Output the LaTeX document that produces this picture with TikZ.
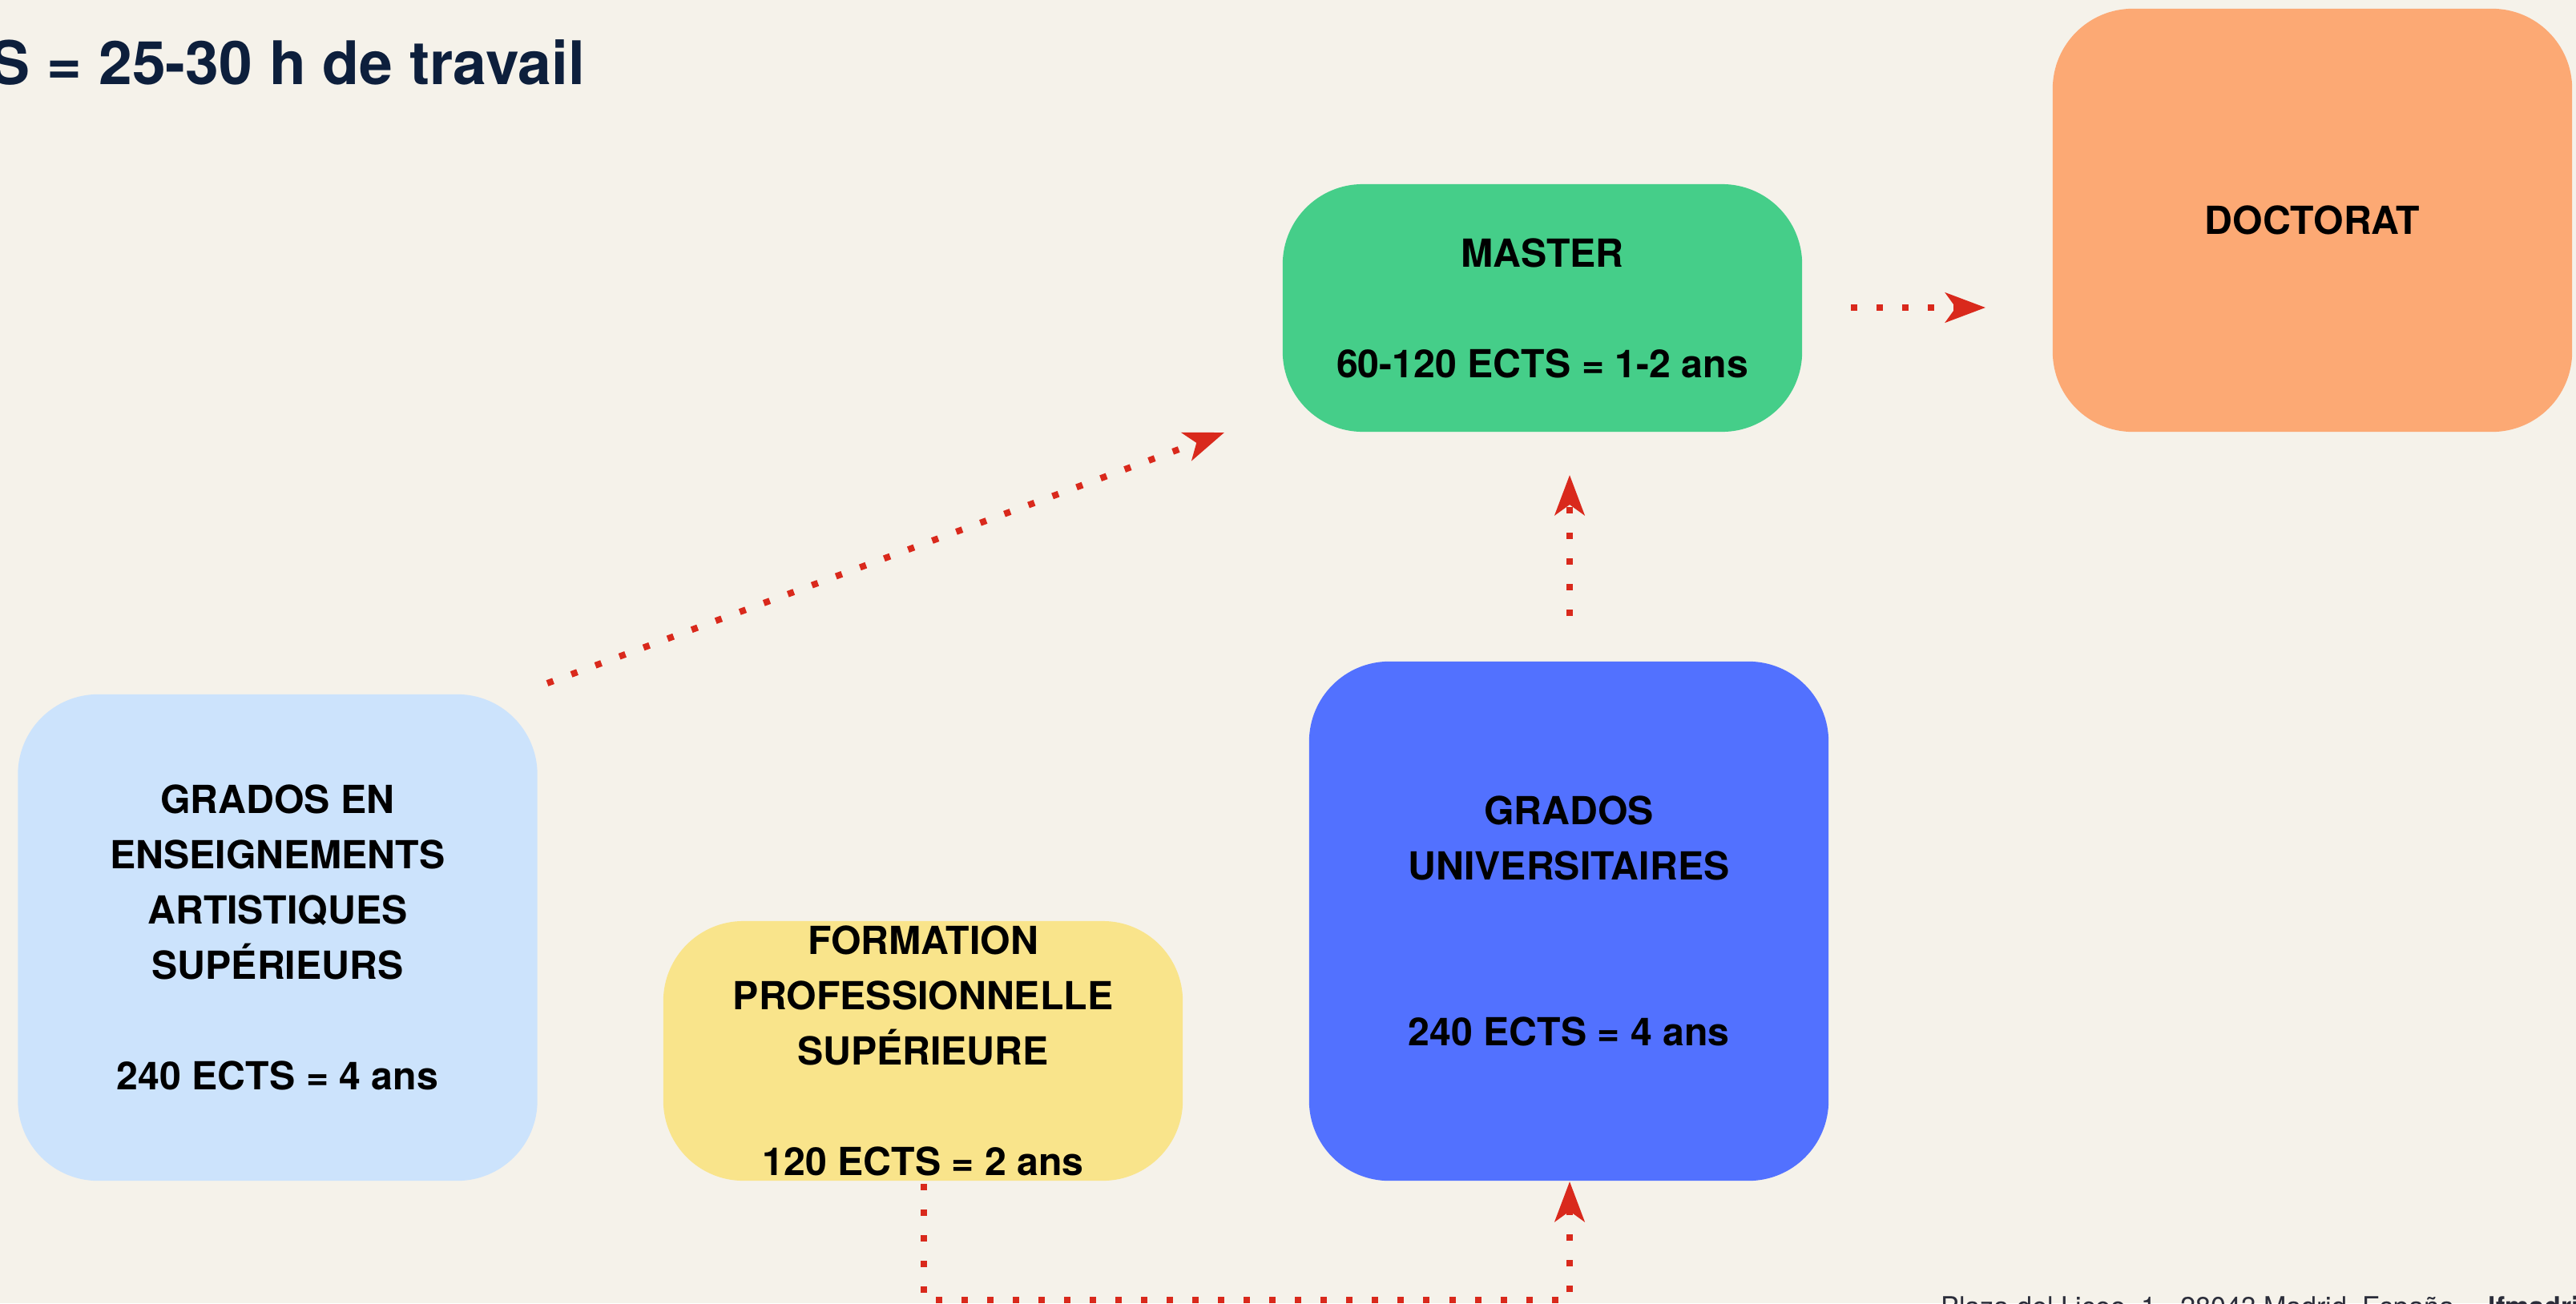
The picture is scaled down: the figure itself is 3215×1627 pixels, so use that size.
\documentclass[tikz,border=0pt]{standalone}
\usepackage{fontspec}
\setmainfont{TeX Gyre Heros}
\usetikzlibrary{arrows.meta}
\definecolor{bg}{HTML}{F5F2EA}
\definecolor{mastergreen}{HTML}{45CE89}
\definecolor{doctorange}{HTML}{FCA974}
\definecolor{lightblue}{HTML}{CCE3FC}
\definecolor{fpyellow}{HTML}{F9E48B}
\definecolor{univblue}{HTML}{5271FF}
\definecolor{arrowred}{HTML}{D9291C}
\definecolor{titlenavy}{HTML}{0D1F3C}
\definecolor{footgray}{HTML}{2B2D3A}
\begin{document}
\begin{tikzpicture}[x=0.01cm,y=-0.01cm,
  box/.style={rectangle, rounded corners=1cm, minimum width=6.48cm, inner sep=0pt, draw=none},
  btext/.style={font=\fontsize{13.72pt}{19.63pt}\selectfont\bfseries, align=center, inner sep=0pt, text=black},
  flow/.style={draw=arrowred, line width=0.08cm, dash pattern=on 0.08cm off 0.24cm,
    -{Stealth[length=0.5cm, width=0.37cm, inset=0.13cm]}},
  foot/.style={anchor=base west, inner sep=0pt, text=footgray}]
\fill[bg] (0,0) rectangle (3215,1627);
\useasboundingbox (0,0) rectangle (3215,1627);
\clip (0,0) rectangle (3215,1627);

% title
\node[anchor=base west, inner sep=0pt, font=\fontsize{21.34pt}{25pt}\selectfont\bfseries, text=titlenavy] (title) at (-13,105) {S = 25-30 h de travail};

% boxes
\node[box, fill=mastergreen, minimum height=3.09cm] (master) at (1925,384.5) {};
\node[box, fill=doctorange, minimum height=5.28cm] (doct) at (2886,275) {};
\node[box, fill=lightblue, minimum height=6.07cm] (gea) at (346.5,1170.5) {};
\node[box, fill=fpyellow, minimum height=3.24cm] (fp) at (1152,1312) {};
\node[box, fill=univblue, minimum height=6.48cm] (gu) at (1958,1150) {};

% texts
\node[btext] (mastert) at (master.center) {MASTER\\[0.69cm]60-120 ECTS = 1-2 ans};
\node[btext] (doctt) at (doct.center) {DOCTORAT};
\node[btext] (geat) at (gea.center) {GRADOS EN\\ENSEIGNEMENTS\\ARTISTIQUES\\SUPÉRIEURS\\[0.69cm]240 ECTS = 4 ans};
\node[btext] (fpt) at (fp.center) {FORMATION\\PROFESSIONNELLE\\SUPÉRIEURE\\[0.69cm]120 ECTS = 2 ans};
\node[btext] (gut) at (gu.center) {GRADOS\\UNIVERSITAIRES\\[1.38cm]240 ECTS = 4 ans};

% connector ends
\coordinate (a1s) at (683,853);
\coordinate (a1e) at (1528,540);
\coordinate (a2s) at (2310,384);
\coordinate (a2e) at (2478,384);
\coordinate (a3s) at (1959,769);
\coordinate (a3e) at (1959,593);
\coordinate (a4s) at (1153,1478);
\coordinate (a4b1) at (1153,1623);
\coordinate (a4b2) at (1959,1623);
\coordinate (a4e) at (1959,1475);

\draw[flow] (a1s) -- (a1e);
\draw[flow] (a2s) -- (a2e);
\draw[flow] (a3s) -- (a3e);
\draw[flow] (a4s) -- (a4b1) -- (a4b2) -- (a4e);

% footer
\node[foot, font=\fontsize{9.67pt}{11pt}\selectfont] (addr) at (2422,1643) {Plaza del Liceo, 1 - 28043 Madrid, España};
\node[foot, font=\fontsize{9.67pt}{11pt}\selectfont\bfseries] (web) at (3105,1643) {lfmadrid.org};
\end{tikzpicture}
\end{document}
